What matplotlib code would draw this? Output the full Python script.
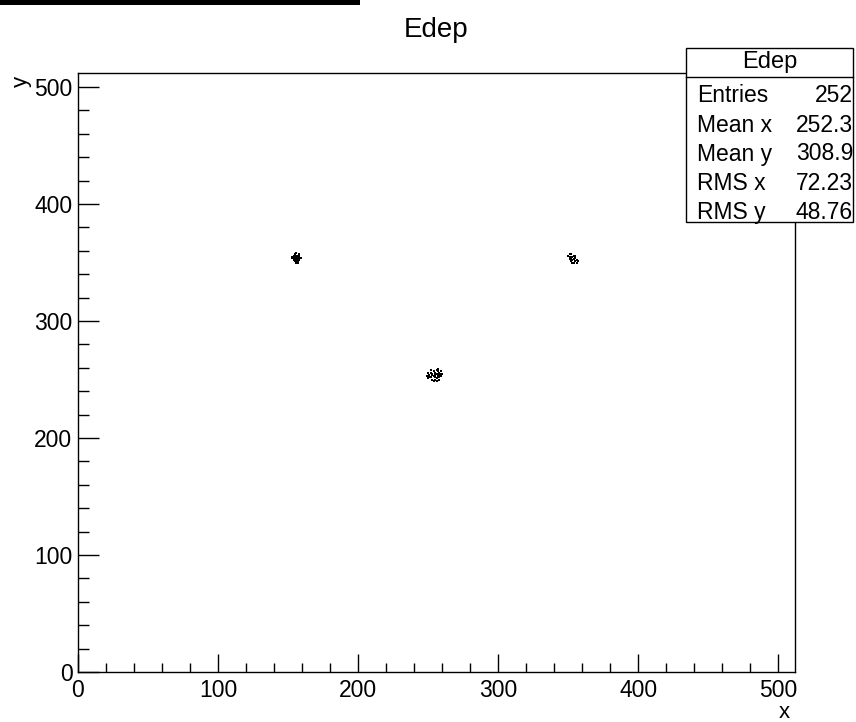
import numpy as np
import matplotlib
matplotlib.use("Agg")
import matplotlib.pyplot as plt
from matplotlib.patches import Rectangle
from matplotlib.lines import Line2D
from matplotlib.ticker import MultipleLocator

plt.rcParams['font.family'] = ['Liberation Sans', 'DejaVu Sans']

# hit positions, three clusters
left_x = [153, 154, 154, 155, 155, 155, 156, 156, 156, 156, 157, 157, 157, 157, 158,
          158, 158, 155, 156, 157, 154, 153, 158, 159, 156, 155, 157, 156, 154, 158]
left_y = [354, 352, 356, 351, 353, 357, 350, 352, 355, 358, 351, 353, 356, 354, 352,
          355, 357, 355, 353, 352, 354, 355, 353, 354, 356, 354, 350, 351, 355, 356]

center_x = [249, 250, 250, 251, 252, 252, 253, 253, 254, 254, 255, 255, 255, 256, 256,
            256, 257, 257, 257, 258, 258, 258, 259, 259, 260, 254, 256, 258, 251, 253,
            255, 257, 259, 252]
center_y = [253, 256, 251, 254, 258, 252, 255, 250, 257, 253, 256, 252, 254, 258, 255,
            251, 257, 253, 255, 256, 254, 252, 257, 253, 255, 249, 249, 250, 252, 254,
            250, 259, 255, 256]

right_x = [350, 351, 351, 352, 352, 353, 353, 354, 354, 355, 355, 356, 356, 357, 352,
           354, 351, 353, 355]
right_y = [356, 355, 353, 357, 354, 355, 352, 356, 353, 351, 354, 352, 350, 351, 351,
           350, 357, 350, 356]

stat_names = ["Entries", "Mean x", "Mean y", "RMS x", "RMS y"]
stat_values = ["252", "252.3", "308.9", "72.23", "48.76"]

W, H = 856, 722


def fx(px):
    return px / W


def fy(py):
    return 1 - py / H


fig = plt.figure(figsize=(W / 100, H / 100), dpi=100)
ax = fig.add_axes([fx(78), fy(672), (795 - 78) / W, (672 - 73) / H])

xs = left_x + center_x + right_x
ys = left_y + center_y + right_y
ax.plot(xs, ys, 's', color='black', markersize=2.0, markeredgewidth=0)

ax.set_xlim(0, 512)
ax.set_ylim(0, 512)
ax.xaxis.set_major_locator(MultipleLocator(100))
ax.xaxis.set_minor_locator(MultipleLocator(20))
ax.yaxis.set_major_locator(MultipleLocator(100))
ax.yaxis.set_minor_locator(MultipleLocator(20))
ax.tick_params(axis='x', which='major', direction='in', length=13, width=1, labelsize=16.5, pad=5)
ax.tick_params(axis='x', which='minor', direction='in', length=6.5, width=1)
ax.tick_params(axis='y', which='major', direction='in', length=15, width=1, labelsize=16.5, pad=4)
ax.tick_params(axis='y', which='minor', direction='in', length=8, width=1)
for s in ax.spines.values():
    s.set_linewidth(1)

ax.set_xlabel('x', fontsize=16, loc='right')
ax.xaxis.set_label_coords(0.993, -0.05)
ax.set_ylabel('y', fontsize=16, loc='top')
ax.yaxis.set_label_coords(-0.064, 0.995)

fig.text(fx(436), fy(30), 'Edep', ha='center', va='center', fontsize=20)

# stats box
bx0, bx1, by0, by1 = 686, 853, 48, 222
fig.patches.append(Rectangle((fx(bx0), fy(by1)), (bx1 - bx0) / W, (by1 - by0) / H,
                             transform=fig.transFigure, facecolor='white',
                             edgecolor='black', linewidth=1, zorder=5))
fig.lines.append(Line2D([fx(bx0), fx(bx1)], [fy(77), fy(77)], transform=fig.transFigure,
                        color='black', linewidth=1, zorder=6))
fig.text(fx(770), fy(62), 'Edep', ha='center', va='center', fontsize=17, zorder=7)
row_y = [95, 125, 154, 184, 212]
for name, val, ry in zip(stat_names, stat_values, row_y):
    fig.text(fx(697), fy(ry), name, ha='left', va='center', fontsize=16.5, zorder=7)
    fig.text(fx(853), fy(ry), val, ha='right', va='center', fontsize=16.5, zorder=7)

# dark strip at the top-left of the screenshot
fig.patches.append(Rectangle((0, fy(5)), 360 / W, 5 / H, transform=fig.transFigure,
                             facecolor='black', edgecolor='none', zorder=8))

fig.savefig("out.png", dpi=100)
